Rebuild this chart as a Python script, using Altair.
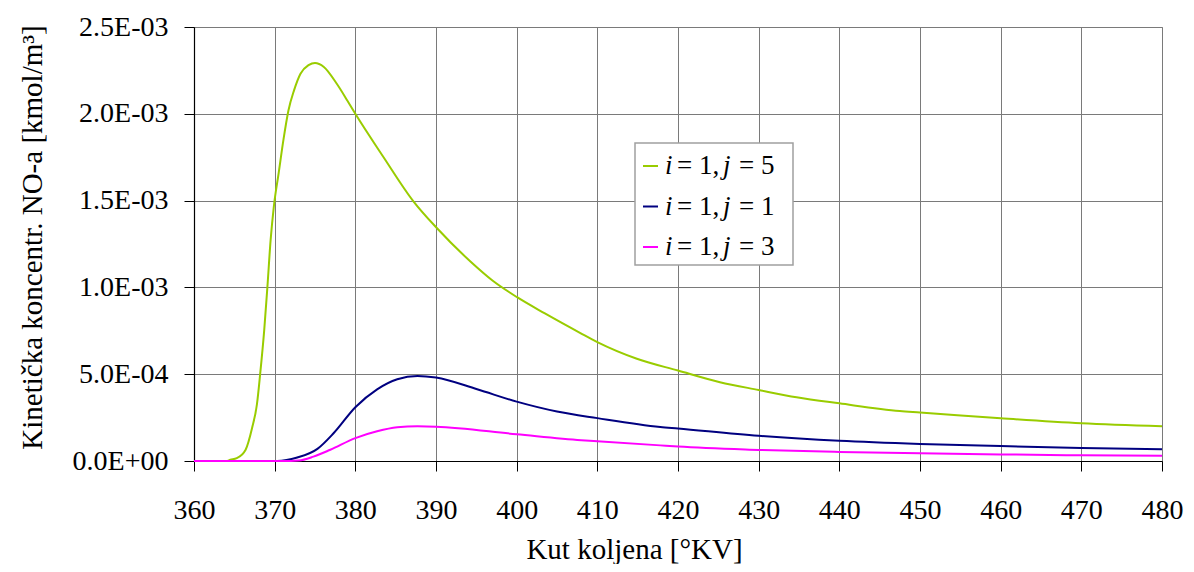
import altair as alt
import pandas as pd

# Series: i = 1, j = 5 (green)
x_j5 = [360, 362, 364, 364.5, 365.3, 366.4, 367.2, 367.8, 368.2, 368.7, 369.1, 369.5, 369.9,
        370.5, 371.1, 371.7, 372.4, 373.2, 374.2, 375.0, 376.1, 377.7, 379.0, 380.0, 383.5,
        387.2, 390.1, 394.3, 397, 400, 403.5, 407.9, 410, 414.9, 420, 425.2, 430, 434.7, 440,
        447.5, 450, 460, 470, 480]
y_j5 = [0, 0, 0, 0.007, 0.016, 0.065, 0.19, 0.326, 0.5, 0.751, 1.003, 1.274, 1.467,
        1.66, 1.854, 2.018, 2.135, 2.231, 2.28, 2.293, 2.27, 2.173, 2.077, 2.0, 1.75,
        1.496, 1.342, 1.148, 1.04, 0.945, 0.85, 0.737, 0.685, 0.589, 0.521, 0.454, 0.409, 0.367, 0.332,
        0.288, 0.28, 0.246, 0.217, 0.2]

# Series: i = 1, j = 1 (navy)
x_j1 = [360, 370, 370.3, 372.8, 375.3, 377.3, 380.0, 382.7, 385.2, 387.7, 390, 395.1, 400,
        405, 410, 417.8, 420, 430, 440, 450, 460, 470, 480]
y_j1 = [0, 0, 0.0, 0.02, 0.07, 0.16, 0.31, 0.413, 0.471, 0.49, 0.481, 0.413, 0.342,
        0.285, 0.247, 0.196, 0.187, 0.145, 0.116, 0.098, 0.086, 0.075, 0.067]

# Series: i = 1, j = 3 (magenta)
x_j3 = [360, 371, 373, 374.8, 376.9, 380, 382.7, 385.2, 387.7, 390, 400, 408, 410, 417.8,
        420, 430, 440, 450, 460, 470, 480]
y_j3 = [0, 0, 0.003, 0.025, 0.065, 0.132, 0.171, 0.194, 0.2, 0.198, 0.154, 0.12, 0.114, 0.09,
        0.083, 0.064, 0.052, 0.044, 0.038, 0.033, 0.03]

series_names = ["i = 1, j = 5", "i = 1, j = 1", "i = 1, j = 3"]
series_i = ["1", "1", "1"]
series_j = ["5", "1", "3"]
series_colors = ["#99CC00", "#000080", "#FF00FF"]

y_tick_values = [0, 0.0005, 0.001, 0.0015, 0.002, 0.0025]
y_tick_labels = ["0.0E+00", "5.0E-04", "1.0E-03", "1.5E-03", "2.0E-03", "2.5E-03"]
x_tick_values = [360, 370, 380, 390, 400, 410, 420, 430, 440, 450, 460, 470, 480]

rows = []
for name, xs, ys in zip(series_names, [x_j5, x_j1, x_j3], [y_j5, y_j1, y_j3]):
    for i, (xv, yv) in enumerate(zip(xs, ys)):
        rows.append({"series": name, "x": xv, "y": yv * 1e-3, "order": i})
df = pd.DataFrame(rows)

legend_df = pd.DataFrame({
    "series": series_names,
    "row": list(range(len(series_names))),
    "ivar": ["i"] * len(series_names),
    "ieq": ["= %s," % v for v in series_i],
    "jvar": ["j"] * len(series_names),
    "jeq": ["= %s" % v for v in series_j],
})

label_expr = "[" + ",".join("'%s'" % s for s in y_tick_labels) + "][round(datum.value/0.0005)]"

FONT = "Liberation Serif"
color_scale = alt.Scale(domain=series_names, range=series_colors)

lines = alt.Chart(df).mark_line(strokeWidth=2, interpolate="monotone").encode(
    x=alt.X("x:Q",
            scale=alt.Scale(domain=[360, 480], nice=False, zero=False),
            axis=alt.Axis(values=x_tick_values, format="d", title="Kut koljena [°KV]",
                          titleX=440, titleY=97, titleBaseline="alphabetic", titleAlign="center",
                          labelPadding=25, tickSize=10, labelFlush=False)),
    y=alt.Y("y:Q",
            scale=alt.Scale(domain=[0, 0.0025], nice=False),
            axis=alt.Axis(values=y_tick_values, labelExpr=label_expr,
                          title="Kinetička koncentr. NO-a [kmol/m³]",
                          titleAngle=-90, titleX=-162, titleY=210, titleAlign="center",
                          titleBaseline="middle",
                          labelPadding=16, tickSize=10, labelFlush=False)),
    color=alt.Color("series:N", scale=color_scale, legend=None),
    detail="series:N",
    order="order:Q",
)

# Legend (drawn inside the plot, as in the reference)
row_scale = alt.Scale(domain=[0, 2], range=[139, 220])
leg_y = alt.Y("row:Q", scale=row_scale, axis=None)

leg_box = alt.Chart(pd.DataFrame({"k": [0]})).mark_rect(
    fill="white", stroke="#a0a0a0", strokeWidth=1.5
).encode(x=alt.value(441), x2=alt.value(599), y=alt.value(116), y2=alt.value(238))

leg_sym = alt.Chart(legend_df).mark_rule(strokeWidth=2).encode(
    x=alt.value(449), x2=alt.value(464), y=leg_y,
    color=alt.Color("series:N", scale=color_scale, legend=None),
)

text_parts = [("ivar", 471, "italic"), ("ieq", 483, "normal"),
              ("jvar", 529, "italic"), ("jeq", 545, "normal")]
leg_texts = [
    alt.Chart(legend_df).mark_text(align="left", baseline="middle", font=FONT, fontSize=27,
                                   fontStyle=style, color="black").encode(
        x=alt.value(xpos), y=leg_y, text=f"{field}:N")
    for field, xpos, style in text_parts
]

chart = alt.layer(lines, leg_box, leg_sym, *leg_texts).resolve_scale(
    y="independent"
).properties(
    width=968, height=434,
    autosize=alt.AutoSizeParams(type="none"),
    padding={"left": 186, "top": 19, "right": 24, "bottom": 103},
).configure_view(
    stroke="#a0a0a0", strokeWidth=1
).configure_axis(
    labelFont=FONT, titleFont=FONT, labelFontSize=28, titleFontSize=29,
    labelColor="black", titleColor="black", titleFontWeight="normal",
    domainColor="black", domainWidth=1.2, tickColor="black", tickWidth=1,
    gridColor="#7a7a7a", gridWidth=1
)

chart.save("out.html", embed_options={"renderer": "svg", "actions": False})
